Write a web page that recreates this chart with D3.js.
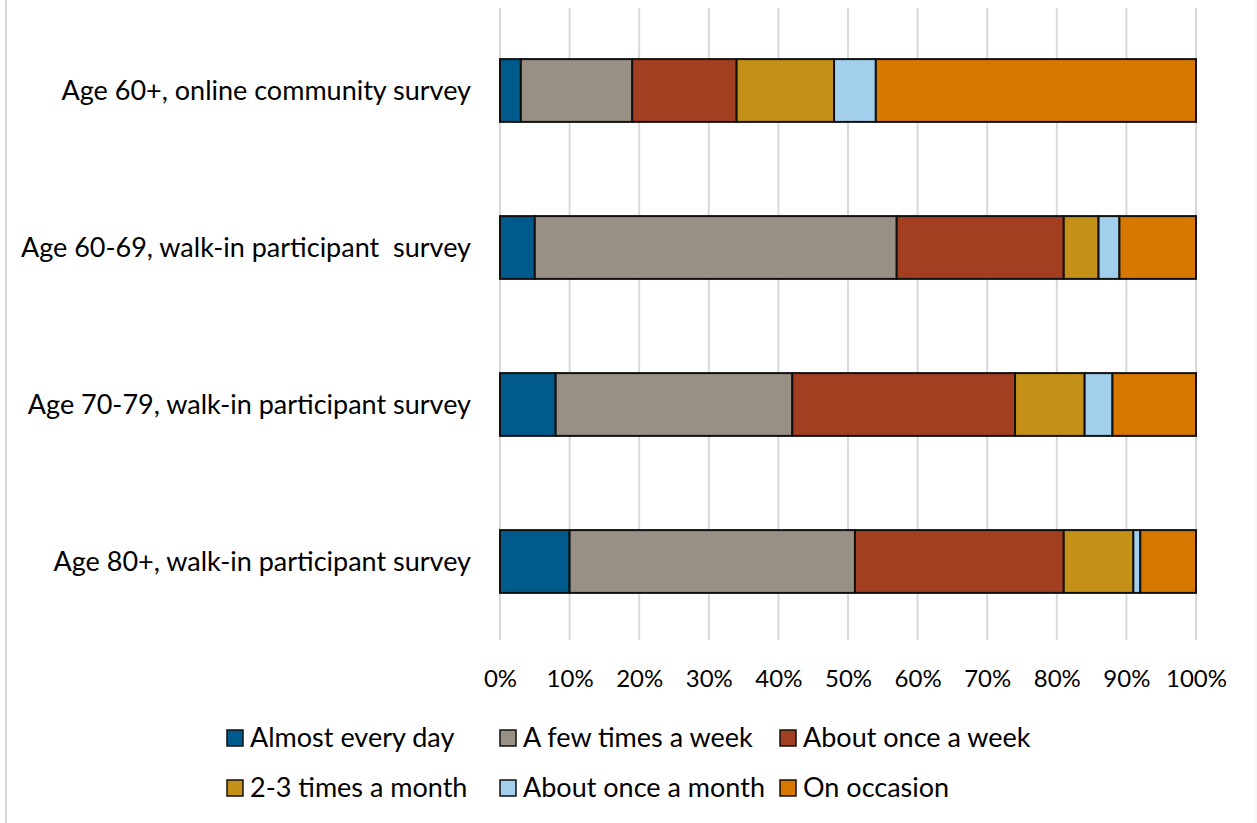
<!DOCTYPE html>
<html>
<head>
<meta charset="utf-8">
<script src="https://cdn.jsdelivr.net/npm/d3@7"></script>
<style>
  html, body { margin: 0; padding: 0; background: #fff; overflow: hidden; }
  svg { display: block; }
</style>
</head>
<body>
<div id="chart"></div>
<script>
// categories (top to bottom)
const categories = [
    "Age 60+, online community survey",
    "Age 60-69, walk-in participant  survey",
    "Age 70-79, walk-in participant survey",
    "Age 80+, walk-in participant survey"
];

const seriesNames = [
    "Almost every day",
    "A few times a week",
    "About once a week",
    "2-3 times a month",
    "About once a month",
    "On occasion"
];

// percentages per series, one value per category
const almostEveryDay   = [3, 5, 8, 10];
const fewTimesWeek     = [16, 52, 34, 41];
const onceWeek         = [15, 24, 32, 30];
const twoThreeMonth    = [14, 5, 10, 10];
const onceMonth        = [6, 3, 4, 1];
const onOccasion       = [46, 11, 12, 8];

const colors = ["#005a8c", "#988f85", "#a23f21", "#c49018", "#a2cfeb", "#d67700"];
const tickValues = [0, 0.1, 0.2, 0.3, 0.4, 0.5, 0.6, 0.7, 0.8, 0.9, 1.0];

const font = "Lato, 'Open Sans', sans-serif";
const width = 1257, height = 823;
const margin = { top: 12, left: 500, right: 61, bottom: 183 };
const innerWidth = width - margin.left - margin.right;
const innerHeight = height - margin.top - margin.bottom;

const table = categories.map((c, i) => {
    const row = { category: c };
    const vals = [almostEveryDay, fewTimesWeek, onceWeek, twoThreeMonth, onceMonth, onOccasion];
    const total = d3.sum(vals, v => v[i]);
    seriesNames.forEach((s, k) => { row[s] = vals[k][i] / total; });
    return row;
});

const stacked = d3.stack().keys(seriesNames)(table);

const svg = d3.select("#chart")
    .append("svg")
    .attr("width", width)
    .attr("height", height)
    .attr("font-family", font);

// side edges of the chart frame
svg.append("line")
    .attr("x1", 6).attr("x2", 6).attr("y1", 0).attr("y2", height)
    .attr("stroke", "#d9d9d9").attr("stroke-width", 2);
svg.append("line")
    .attr("x1", 1256).attr("x2", 1256).attr("y1", 0).attr("y2", height)
    .attr("stroke", "#f2f2f2").attr("stroke-width", 1);

const x = d3.scaleLinear().domain([0, 1]).range([0, innerWidth]);
const y = d3.scaleBand().domain(categories).range([0, innerHeight]).paddingInner(0.6).paddingOuter(0.3);

const g = svg.append("g").attr("transform", `translate(${margin.left},${margin.top})`);

// gridlines
g.selectAll(".grid")
    .data(tickValues)
    .enter()
    .append("line")
    .attr("x1", d => x(d)).attr("x2", d => x(d))
    .attr("y1", -4).attr("y2", innerHeight)
    .attr("stroke", "#d9d9d9")
    .attr("stroke-width", 2);

// bars
g.selectAll(".series")
    .data(stacked)
    .enter()
    .append("g")
    .attr("fill", (d, i) => colors[i])
    .selectAll("rect")
    .data(d => d)
    .enter()
    .append("rect")
    .attr("x", d => x(d[0]))
    .attr("y", d => y(d.data.category))
    .attr("width", d => x(d[1]) - x(d[0]))
    .attr("height", y.bandwidth())
    .attr("stroke", "#111")
    .attr("stroke-width", 2);

// x axis labels
const xAxis = d3.axisBottom(x).tickValues(tickValues).tickFormat(d3.format(".0%")).tickSize(0).tickPadding(0);
g.append("g")
    .attr("transform", `translate(0,${innerHeight + 30})`)
    .call(xAxis)
    .attr("font-size", 24)
    .attr("font-family", font)
    .call(a => a.select(".domain").remove())
    .selectAll("text")
    .attr("fill", "#000")
    .attr("dy", "0.71em");

// category labels
g.selectAll(".cat")
    .data(categories)
    .enter()
    .append("text")
    .attr("x", -29)
    .attr("y", d => y(d) + y.bandwidth() / 2)
    .attr("dy", "0.35em")
    .attr("text-anchor", "end")
    .attr("font-size", 27)
    .attr("fill", "#000")
    .style("white-space", "pre")
    .text(d => d);

// legend
const legendPos = [[227, 738], [500, 738], [780, 738], [227, 788], [500, 788], [780, 788]];
const legend = svg.selectAll(".legend")
    .data(seriesNames)
    .enter()
    .append("g")
    .attr("transform", (d, i) => `translate(${legendPos[i][0]},${legendPos[i][1]})`);

legend.append("rect")
    .attr("x", 0).attr("y", -8)
    .attr("width", 16).attr("height", 16)
    .attr("fill", (d, i) => colors[i])
    .attr("stroke", "#111")
    .attr("stroke-width", 1.5);

legend.append("text")
    .attr("x", 23)
    .attr("y", 0)
    .attr("dy", "0.35em")
    .attr("font-size", 27)
    .attr("fill", "#000")
    .text(d => d);
</script>
</body>
</html>
